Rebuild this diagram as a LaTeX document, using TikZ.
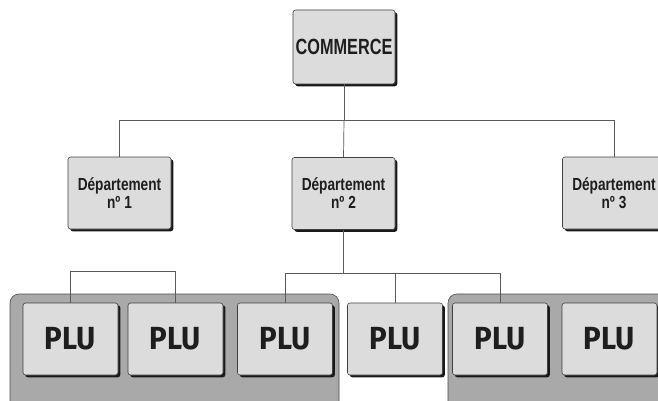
\documentclass[tikz,border=0pt]{standalone}
\usepackage{fontspec}
\usepackage{graphicx}
\setmainfont{Liberation Sans}
\newfontfamily\plufont{Fira Sans}
\usetikzlibrary{shadows}
\definecolor{boxfill}{HTML}{DCDCDC}
\definecolor{grpfill}{HTML}{A9A9A9}
\definecolor{wirec}{HTML}{5A5A5A}
\definecolor{txtc}{HTML}{1E1E1E}
\tikzset{
  box/.style={draw=black!75, fill=boxfill, rounded corners=2.5pt, line width=0.6pt,
    inner sep=0pt, text=txtc, align=center,
    general shadow={fill=black!90, shadow xshift=2.3pt, shadow yshift=-2.3pt}},
  topbox/.style={box, minimum width=102pt, minimum height=74pt,
    font=\bfseries\fontsize{22}{24}\selectfont},
  deptbox/.style={box, minimum width=103pt, minimum height=72pt,
    font=\bfseries\fontsize{17.5}{18}\selectfont},
  plubox/.style={box, minimum width=95pt, minimum height=72pt,
    font=\plufont\bfseries\fontsize{32}{32}\selectfont},
  grp/.style={draw=black!70, fill=grpfill, rounded corners=9pt, line width=0.6pt,
    inner sep=0pt},
  wire/.style={draw=wirec, line width=0.7pt}
}
\newcommand{\nx}[1]{\scalebox{0.78}[1]{#1}}
\begin{document}
\begin{tikzpicture}[x=1pt,y=-1pt]
\useasboundingbox (0,0) rectangle (658,401);
\clip (0,0) rectangle (658,401);
% groups
\node[grp, minimum width=329pt, minimum height=130pt] (g1) at (174.5,359) {};
\node[grp, minimum width=240pt, minimum height=130pt] (g2) at (568,359) {};
% boxes
\node[topbox] (com) at (344,47) {\scalebox{0.74}[1]{COMMERCE}};
\node[deptbox] (d1) at (119.5,193) {\nx{Département}\\\nx{nº 1}};
\node[deptbox] (d2) at (343.5,193.5) {\nx{Département}\\\nx{nº 2}};
\node[deptbox] (d3) at (614,193) {\nx{Département}\\\nx{nº 3}};
\node[plubox] (p1) at (70.5,339) {\scalebox{0.92}[1]{PLU}};
\node[plubox] (p2) at (175.5,339) {\scalebox{0.92}[1]{PLU}};
\node[plubox] (p3) at (285,339) {\scalebox{0.92}[1]{PLU}};
\node[plubox] (p4) at (395,339) {\scalebox{0.92}[1]{PLU}};
\node[plubox] (p5) at (500,339) {\scalebox{0.92}[1]{PLU}};
\node[plubox] (p6) at (609.5,339) {\scalebox{0.92}[1]{PLU}};
% connectors
\coordinate (bus1) at (344,120);
\coordinate (bus2) at (343.5,273);
\draw[wire] (com.south) -- (bus1);
\draw[wire] (bus1) -| (d1.north);
\draw[wire] (bus1) -| (d3.north);
\draw[wire] (bus1) -- (d2.north);
\draw[wire] (d2.south) -- (bus2);
\draw[wire] (bus2) -| (p3.north);
\draw[wire] (bus2) -| (p5.north);
\draw[wire] (p4.north) -- (p4.north |- bus2);
\draw[wire] (p1.north) -- ++(0,-31) -| (p2.north);
\end{tikzpicture}
\end{document}
